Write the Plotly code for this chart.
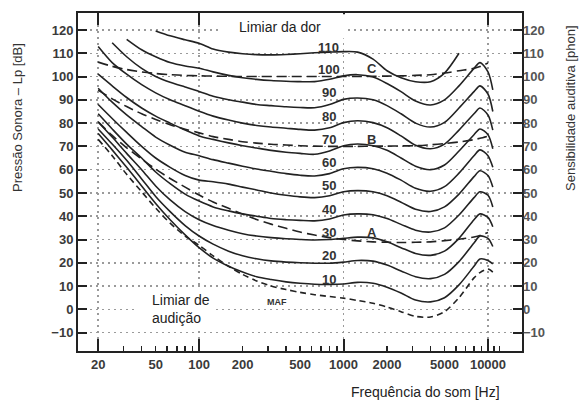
import numpy as np
import plotly.graph_objects as go

# ---------------- data ----------------
freqs = [20, 25, 31.5, 40, 50, 63, 80, 100, 125, 160, 200, 250, 315, 400, 500, 630,
         800, 1000, 1250, 1600, 2000, 2500, 3150, 4000, 5000, 6300, 8000, 8800, 10000, 10800]

phon_10 = [75.5, 68.5, 61, 53, 45.5, 38.5, 32, 26.5, 22, 18.5, 16, 14, 12.8, 11.8, 11.2, 10.8, 10.7, 10.9,
           11.6, 11.2, 9.5, 7, 4, 3.2, 5, 10.5, 18.5, 21.6, 21, 19.5]
phon_20 = [77.5, 71, 64, 56, 48.5, 42, 36, 31.5, 28, 25, 23, 21.7, 20.8, 20.3, 20, 19.8, 19.8, 20.3,
           21, 20.7, 19, 16.5, 14, 13.2, 15, 20.5, 28.5, 31.5, 30.5, 27]
phon_30 = [80.5, 74, 67, 60, 53, 47, 42, 38.5, 36, 34, 32.5, 31.5, 30.8, 30.3, 30, 29.8, 30, 30.5,
           31, 30.7, 29, 26.5, 24, 23.2, 25, 30.5, 38.5, 41, 39.5, 35.5]
phon_40 = [84, 77.5, 71, 65, 59, 54, 49.5, 46.5, 44, 42.3, 41, 40, 39, 38.5, 38.2, 38, 38.8, 40.5,
           41, 40.6, 39, 36.5, 34, 33.2, 35, 40.5, 48, 50.5, 49, 44]
phon_50 = [88, 82, 76, 70, 65, 61, 57.5, 55.5, 54.8, 53.8, 52.5, 51.3, 50, 49, 48.3, 48, 48.8, 50.5,
           51, 50.5, 48.8, 46, 43, 42, 44, 49.5, 57, 59.5, 57.5, 52.5]
phon_60 = [95, 89, 83.5, 78.5, 74, 70.5, 67.5, 66, 64.3, 62.8, 61.5, 60.3, 59.3, 58.3, 57.6, 57.3, 58.3, 60.4,
           61, 60.4, 58.5, 55.5, 52, 50.7, 52.7, 58.5, 66, 68.5, 66, 61]
phon_70 = [101, 96, 91, 86.5, 83, 80, 77, 74.5, 73, 71.5, 70.3, 69.3, 68.3, 67.5, 67, 66.6, 68, 70.3,
           71, 70.3, 68.3, 65, 61.5, 60, 62, 68, 75, 77.5, 75, 69]
phon_80 = [112.9, 106, 101, 96.5, 93, 90, 87.5, 85.1, 83, 81.3, 80, 79, 78.3, 77.8, 77.3, 77, 78, 80.2,
           81, 80.2, 78, 74.5, 70.5, 69, 71, 77, 84, 86.5, 83.5, 77]
phon_90 = [None, 114.5, 108.5, 103.5, 100, 97.5, 95.5, 93.6, 91.5, 90, 89, 88, 87.5, 87, 86.7, 86.6, 88, 90.2,
           90.8, 90, 87.5, 84, 80, 78.3, 80.3, 86.5, 93.5, 96, 92.5, 85]
phon_100 = [None, None, 116, 111.5, 108.5, 106, 104.5, 103.6, 102, 100.5, 99.5, 98.8, 98.3, 98, 97.8, 97.8, 98.8, 100.3,
            100.8, 99.8, 97, 93.5, 89.5, 87.8, 90, 96, 103.5, 106, 102, 94.3]
phon_110 = [None, None, None, None, 119.6, 117.5, 115.8, 114.3, 111.8, 110.5, 109.8, 109.4, 109.3, 109.5, 109.8, 110.2, 110.5, 110.7,
            110.5, 107.5, 102.5, 99.5, 97.8, 97.8, 101.5, 110, None, None, None, None]

maf = [73, 66, 58, 50.5, 43.5, 37, 31.5, 27.5, 23, 18.5, 15, 12.2, 10, 8.5, 7.3, 6.3, 5.5, 4.8,
       3.8, 2.6, 1, -1, -3, -3.3, -1, 5, 13.5, 15.8, 17.3, 16]

curve_A = [80.5, 74.7, 69.4, 64.6, 60.2, 56.2, 52.5, 49.1, 46.1, 43.4, 40.9, 38.6, 36.6, 34.8, 33.2, 31.9, 30.8, 30,
           29.4, 29, 28.8, 28.7, 28.8, 29, 29.5, 30.1, 31.1, 31.7, 33, None]
curve_B = [94.2, 90.4, 87.1, 84, 81.6, 79.3, 77.4, 75.8, 74.2, 73, 72, 71.4, 70.9, 70.6, 70.3, 70.1, 70, 70,
           70, 70.1, 70.1, 70.2, 70.3, 70.7, 71.2, 71.9, 72.9, 73.5, 74.4, None]
curve_C = [106.2, 104.4, 103, 102, 101.3, 100.8, 100.5, 100.3, 100.2, 100.1, 100, 100, 100, 100, 100, 100, 100, 100,
           100, 100.1, 100.2, 100.3, 100.5, 100.8, 101.5, 102.5, 103.5, 104.3, 105.8, None]

contour_values = [phon_10, phon_20, phon_30, phon_40, phon_50, phon_60, phon_70, phon_80, phon_90, phon_100, phon_110]
contour_names = ["10", "20", "30", "40", "50", "60", "70", "80", "90", "100", "110"]

y_ticks = [-10, 0, 10, 20, 30, 40, 50, 60, 70, 80, 90, 100, 110, 120]
x_label_vals = [20, 50, 100, 200, 500, 1000, 2000, 5000, 10000]
x_major_vals = [20, 100, 1000, 10000]
x_minor_vals = [30, 40, 50, 60, 70, 80, 90, 200, 300, 400, 500, 600, 700, 800, 900,
                2000, 3000, 4000, 5000, 6000, 7000, 8000, 9000, 11000, 12000]

# ---------------- figure ----------------
INK = "#222222"
fig = go.Figure()

for name, vals in zip(contour_names, contour_values):
    fig.add_trace(go.Scatter(x=freqs, y=vals, mode="lines", name=name + " phon",
                             line=dict(color=INK, width=1.6, shape="spline", smoothing=0.8),
                             connectgaps=False, hoverinfo="skip",
                             yaxis="y2" if name == "110" else "y"))

for name, vals in [("A", curve_A), ("B", curve_B), ("C", curve_C)]:
    fig.add_trace(go.Scatter(x=freqs, y=vals, mode="lines", name=name,
                             line=dict(color=INK, width=1.6, dash="10px,5px",
                                       shape="spline", smoothing=0.8),
                             hoverinfo="skip"))

fig.add_trace(go.Scatter(x=freqs, y=maf, mode="lines", name="MAF", xaxis="x2",
                         line=dict(color=INK, width=1.6, dash="6px,4px",
                                   shape="spline", smoothing=0.8),
                         hoverinfo="skip"))

xr = [np.log10(14.5), np.log10(17200)]
yr = [-17.9, 127.3]
tickfont = dict(family="Liberation Sans, Arial", size=13, color="#3a3a3a", weight="bold")

fig.update_layout(
    width=579, height=400,
    margin=dict(l=78, r=57, t=13, b=49, autoexpand=False),
    paper_bgcolor="white", plot_bgcolor="white",
    showlegend=False, hovermode=False,
    xaxis=dict(type="log", range=xr, tickmode="array", tickvals=x_label_vals,
               ticktext=[str(v) for v in x_label_vals], automargin=False,
               ticks="inside", ticklen=0, tickfont=tickfont,
               showgrid=False, zeroline=False,
               showline=True, linecolor=INK, linewidth=2, mirror=True,
               minor=dict(tickmode="array", tickvals=x_minor_vals, ticks="inside",
                          ticklen=5, tickwidth=1.5, tickcolor=INK, showgrid=False)),
    xaxis2=dict(type="log", range=xr, overlaying="x", anchor="y", side="bottom",
                tickmode="array", tickvals=x_major_vals, ticks="inside", ticklen=12,
                tickwidth=2, tickcolor=INK, showticklabels=False, automargin=False,
                showgrid=True, gridcolor="#9a9a9a", gridwidth=1.5, griddash="2px,4px",
                zeroline=False, showline=False, mirror="ticks"),
    yaxis=dict(range=yr, tickmode="array", tickvals=y_ticks, ticks="inside",
               ticklen=9, tickwidth=2, tickcolor=INK, tickfont=tickfont, automargin=False,
               showgrid=True, gridcolor="#9a9a9a", gridwidth=1.5, griddash="2px,4px",
               zeroline=False, showline=True, linecolor=INK, linewidth=2, mirror=True),
    yaxis2=dict(range=yr, overlaying="y", side="right", anchor="x", automargin=False,
                tickmode="array", tickvals=y_ticks, ticks="inside", ticklen=9,
                tickwidth=2, tickcolor=INK,
                tickfont=dict(family="Liberation Sans, Arial", size=13, color="#555555", weight="bold"),
                showgrid=False, zeroline=False, showline=False),
)

# white boxes that interrupt the grid behind the two text blocks
fig.add_shape(type="rect", xref="paper", yref="paper", x0=0.320, x1=0.607, y0=0.925, y1=0.996,
              fillcolor="white", line=dict(width=0), layer="above")
fig.add_shape(type="rect", xref="paper", yref="paper", x0=0.135, x1=0.305, y0=0.068, y1=0.189,
              fillcolor="white", line=dict(width=0), layer="above")

txt = dict(family="Liberation Sans, Arial", size=14, color="#222222")
fig.add_annotation(text="Limiar da dor", xref="paper", yref="paper", x=(280 - 78) / 444,
                   y=(351 - 27) / 338, xanchor="center", yanchor="middle",
                   showarrow=False, font=txt)
fig.add_annotation(text="Limiar de<br>audição", xref="paper", yref="paper", x=(150 - 78) / 444,
                   y=(351 - 309) / 338, xanchor="left", yanchor="middle",
                   showarrow=False, font=txt, align="left")

# curve labels
lab_font = dict(family="Liberation Sans, Arial", size=13, color="#333333", weight="bold")
label_f = 790
for name in contour_names:
    p = float(name)
    fig.add_annotation(text=name, x=np.log10(label_f), y=p + (2.4 if name == "110" else 3.0),
                       showarrow=False, font=lab_font, xanchor="center", yanchor="middle")
for name, yv in [("A", 33.2), ("B", 73.0), ("C", 103.6)]:
    fig.add_annotation(text=name, x=np.log10(1570), y=yv, showarrow=False, font=lab_font,
                       xanchor="center", yanchor="middle")
fig.add_annotation(text="MAF", x=np.log10(345), y=3.3, showarrow=False,
                   xanchor="center", yanchor="middle",
                   font=dict(family="Liberation Sans Narrow, Liberation Sans", size=9,
                             color="#333333", weight="bold"))

# axis titles
title_font = dict(family="Liberation Sans, Arial", size=13, color="#333333")
fig.add_annotation(text="Pressão Sonora – Lp [dB]", xref="paper", yref="paper",
                   x=(17 - 78) / 444, y=(351 - 117) / 338, textangle=-90,
                   xanchor="center", yanchor="middle", showarrow=False, font=title_font)
fig.add_annotation(text="Sensibilidade auditiva [phon]", xref="paper", yref="paper",
                   x=(570 - 78) / 444, y=(351 - 108) / 338, textangle=-90,
                   xanchor="center", yanchor="middle", showarrow=False, font=title_font)
fig.add_annotation(text="Frequência do som [Hz]", xref="paper", yref="paper",
                   x=(425 - 78) / 444, y=(351 - 392) / 338,
                   xanchor="center", yanchor="middle", showarrow=False,
                   font=dict(family="Liberation Sans, Arial", size=14, color="#222222"))

# the page's default 8px body margin would shift the chart; remove it
fig.write_html("out.html", config={"displayModeBar": False, "staticPlot": True},
               post_script="document.body.style.margin='0px';")
